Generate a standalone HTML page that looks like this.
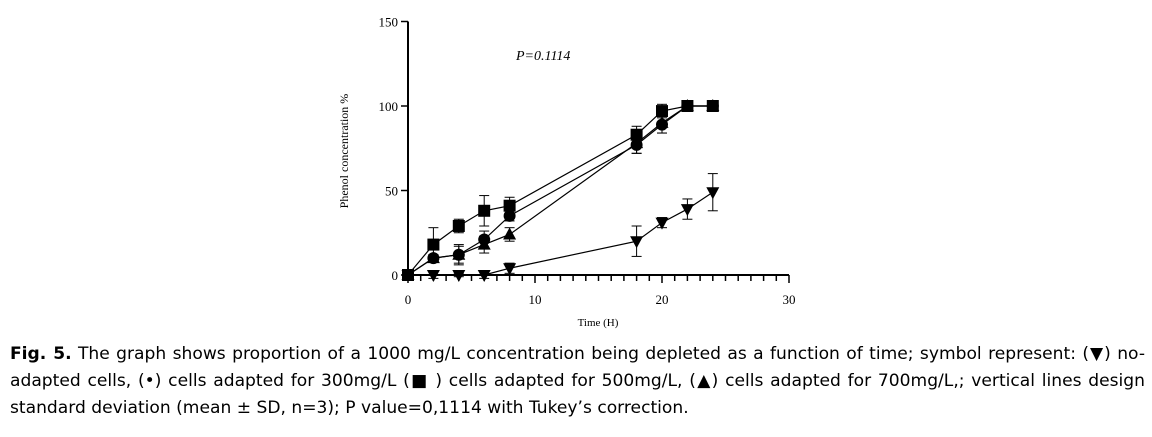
<!DOCTYPE html>
<html><head><meta charset="utf-8"><style>
body{margin:0;width:1152px;height:437px;background:#fff;overflow:hidden;position:relative}
svg{position:absolute;left:0;top:0}
.cap{position:absolute;left:10px;width:1135px;font-family:"DejaVu Sans","Liberation Sans",sans-serif;font-size:17.1px;color:#000;text-align:justify;text-align-last:justify;white-space:nowrap;overflow:visible}
.cap.last{text-align-last:left}
</style></head><body>
<svg id="chart" width="1152" height="340" xmlns="http://www.w3.org/2000/svg"></svg>
<div class="cap" style="top:344px"><b>Fig. 5.</b> The graph shows proportion of a 1000 mg/L concentration being depleted as a function of time; symbol represent: (▼) no-</div>
<div class="cap" style="top:371px">adapted cells, (•) cells adapted for 300mg/L (■ ) cells adapted for 500mg/L, (▲) cells adapted for 700mg/L,; vertical lines design</div>
<div class="cap last" style="top:398px">standard deviation (mean ± SD, n=3); P value=0,1114 with Tukey’s correction.</div>
<script>
const times=[0,2,4,6,8,18,20,22,24];
const sqVals=[0,18,29,38,41,83,97,100,100];
const sqErr=[0,10,4,9,5,5,4,0,0];
const ciVals=[0,10,12,21,35,77,89,100,100];
const ciErr=[0,2,6,5,3,5,5,0,0];
const trVals=[0,10,12,18,24,78,90,100,100];
const trErr=[0,2,5,5,4,6,6,0,0];
const dnVals=[0,0,0,0,4,20,31,39,49];
const dnErr=[0,2,1,2,3,9,3,6,11];
const xTicks=[0,10,20,30];
const yTicks=[0,50,100,150];
const NS="http://www.w3.org/2000/svg";
const svg=document.getElementById('chart');
const X=v=>408+v*(789-408)/30;
const Y=v=>275-v*(275-21.5)/150;
function mk(t,a,p){const e=document.createElementNS(NS,t);for(const k in a)e.setAttribute(k,a[k]);(p||svg).appendChild(e);return e;}
let ax=mk('line',{x1:X(0),y1:Y(0),x2:X(30),y2:Y(0),stroke:'#000','stroke-width':2});

let ay=mk('line',{x1:X(0),y1:Y(0),x2:X(0),y2:Y(150),stroke:'#000','stroke-width':2});

for(let i=0;i<=30;i++){const big=i%10===0;const t=mk('line',{x1:X(i),y1:Y(0),x2:X(i),y2:Y(0)+(big?8:6),stroke:'#000','stroke-width':1.5});
}
xTicks.forEach(v=>{const t=mk('text',{x:X(v),y:Y(0)+29,'text-anchor':'middle','font-family':'Liberation Serif,serif','font-size':13});t.textContent=v;
});
yTicks.forEach(v=>{const l=mk('line',{x1:X(0)-7,y1:Y(v),x2:X(0),y2:Y(v),stroke:'#000','stroke-width':1.5});

const t=mk('text',{x:X(0)-10,y:Y(v)+5,'text-anchor':'end','font-family':'Liberation Serif,serif','font-size':13});t.textContent=v;
});
let xt=mk('text',{x:598,y:326,'text-anchor':'middle','font-family':'Liberation Serif,serif','font-size':11});xt.textContent='Time (H)';

let yt=mk('text',{x:348,y:151,'text-anchor':'middle','font-family':'Liberation Serif,serif','font-size':12,transform:'rotate(-90 348 151)'});yt.textContent='Phenol concentration %';

let pt=mk('text',{x:516,y:60,'font-family':'Liberation Serif,serif','font-size':14,'font-style':'italic'});pt.textContent='P=0.1114';

function series(name,vals,errs,shape){
 const g=mk('g',{});
 mk('polyline',{points:times.map((t,i)=>X(t)+','+Y(vals[i])).join(' '),fill:'none',stroke:'#000','stroke-width':1.2},g);
 times.forEach((t,i)=>{const x=X(t);if(errs[i]>0){const y1=Y(vals[i]+errs[i]),y2=Y(vals[i]-errs[i]);
  mk('line',{x1:x,y1:y1,x2:x,y2:y2,stroke:'#000','stroke-width':1},g);
  mk('line',{x1:x-5,y1:y1,x2:x+5,y2:y1,stroke:'#000','stroke-width':1},g);
  mk('line',{x1:x-5,y1:y2,x2:x+5,y2:y2,stroke:'#000','stroke-width':1},g);}
  const y=Y(vals[i]);let m;
  if(shape==='sq')m=mk('rect',{x:x-6,y:y-6,width:12,height:12,fill:'#000'},g);
  else if(shape==='ci')m=mk('circle',{cx:x,cy:y,r:6,fill:'#000'},g);
  else if(shape==='tr')m=mk('polygon',{points:`${x},${y-7} ${x-6.5},${y+5} ${x+6.5},${y+5}`,fill:'#000'},g);
  else m=mk('polygon',{points:`${x},${y+7} ${x-6.5},${y-5} ${x+6.5},${y-5}`,fill:'#000'},g);
  });
}
series('series-700mg',trVals,trErr,'tr');
series('series-300mg',ciVals,ciErr,'ci');
series('series-no-adapted',dnVals,dnErr,'dn');
series('series-500mg',sqVals,sqErr,'sq');
</script>
</body></html>
